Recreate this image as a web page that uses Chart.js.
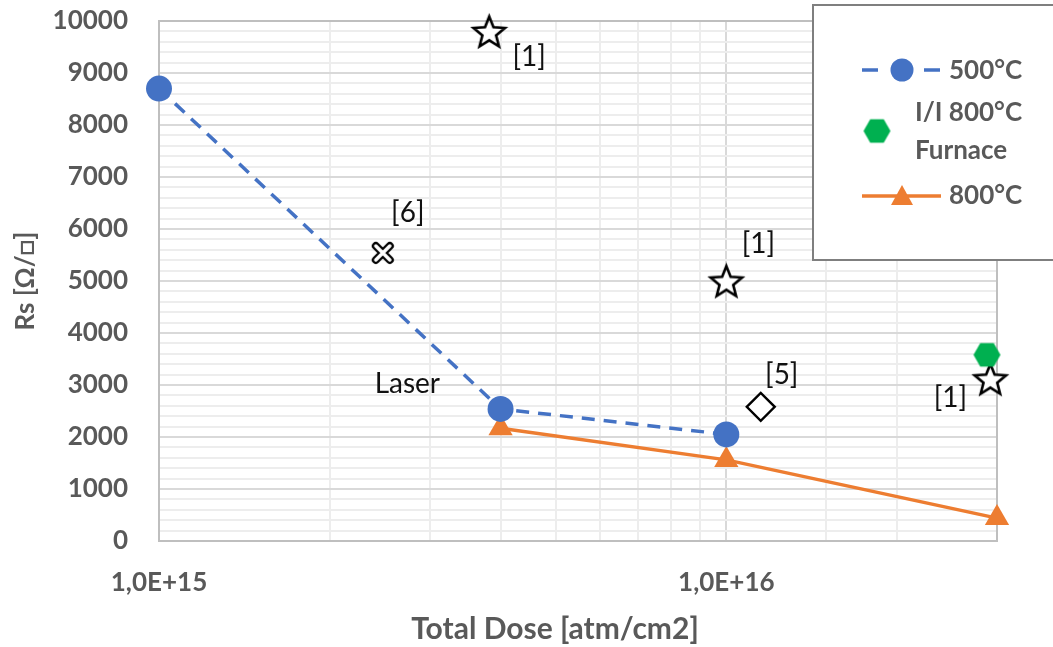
<!DOCTYPE html>
<html>
<head>
<meta charset="utf-8">
<script src="https://cdn.jsdelivr.net/npm/chart.js@4/dist/chart.umd.min.js"></script>
<style>
  html, body { margin: 0; padding: 0; background: #fff; }
</style>
</head>
<body>
<canvas id="chart" width="1053" height="647"></canvas>
<script>
// Data
const dose500 = [1e15, 4e15, 1e16];
const rs500 = [8700, 2540, 2050];

const dose800 = [4e15, 1e16, 3e16];
const rs800 = [2170, 1560, 440];

const doseFurnace = [2.88e16];
const rsFurnace = [3580];

// literature references
const doseRef1 = [3.82e15, 1e16, 2.92e16];
const rsRef1 = [9800, 5000, 3120];
const labelsRef1 = ['[1]', '[1]', '[1]'];

const doseRef6 = [2.48e15];
const rsRef6 = [5540];
const labelsRef6 = ['[6]'];

const doseRef5 = [1.15e16];
const rsRef5 = [2580];
const labelsRef5 = ['[5]'];

const noteText = ['Laser'];
const noteDose = [2.74e15];
const noteRs = [3020];

const xLabelTicks = [1e15, 1e16];
const seriesNames = ['500°C', 'I/I 800°C Furnace', '800°C'];
const xTitle = 'Total Dose [atm/cm2]';

const BLUE = '#4472C4';
const ORANGE = '#ED7D31';
const GREEN = '#00B050';
const GREY_TEXT = '#595959';

const pts = (xs, ys) => xs.map((x, i) => ({ x: x, y: ys[i] }));

// custom marker images
function starImage(outer, inner) {
  const size = Math.ceil(outer * 2 + 6);
  const c = document.createElement('canvas');
  c.width = c.height = size;
  const ctx = c.getContext('2d');
  const cx = size / 2, cy = size / 2 + outer * 0.1;
  ctx.beginPath();
  for (let i = 0; i < 10; i++) {
    const r = i % 2 ? inner : outer;
    const a = -Math.PI / 2 + i * Math.PI / 5;
    ctx.lineTo(cx + r * Math.cos(a), cy + r * Math.sin(a));
  }
  ctx.closePath();
  ctx.fillStyle = '#fff';
  ctx.fill();
  ctx.lineWidth = 2.6;
  ctx.strokeStyle = '#000';
  ctx.stroke();
  return c;
}

function hexImage(r, color) {
  const size = Math.ceil(r * 2 + 2);
  const c = document.createElement('canvas');
  c.width = c.height = size;
  const ctx = c.getContext('2d');
  ctx.beginPath();
  for (let i = 0; i < 6; i++) {
    const a = i * Math.PI / 3;
    ctx.lineTo(size / 2 + r * Math.cos(a), size / 2 + r * Math.sin(a));
  }
  ctx.closePath();
  ctx.fillStyle = color;
  ctx.fill();
  return c;
}

function crossImage(arm) {
  const size = Math.ceil(arm * 2 + 10);
  const c = document.createElement('canvas');
  c.width = c.height = size;
  const ctx = c.getContext('2d');
  const m = size / 2;
  const drawX = () => {
    ctx.beginPath();
    ctx.moveTo(m - arm, m - arm); ctx.lineTo(m + arm, m + arm);
    ctx.moveTo(m - arm, m + arm); ctx.lineTo(m + arm, m - arm);
    ctx.stroke();
  };
  ctx.lineCap = 'round';
  ctx.strokeStyle = '#000'; ctx.lineWidth = 8; drawX();
  ctx.strokeStyle = '#fff'; ctx.lineWidth = 3.5; drawX();
  return c;
}

const starImg = starImage(16.5, 7.2);
const hexImg = hexImage(13.5, GREEN);
const crossImg = crossImage(7);

const isPow10 = v => Math.abs(Math.log10(v) - Math.round(Math.log10(v))) < 1e-9;
const sci = v => {
  const e = Math.round(Math.log10(v));
  return (v / Math.pow(10, e)).toFixed(1).replace('.', ',') + 'E+' + e;
};

const decor = {
  id: 'decor',
  beforeDatasetsDraw(chart) {
    const { ctx, chartArea: a } = chart;
    ctx.save();
    ctx.strokeStyle = '#bfbfbf';
    ctx.lineWidth = 2;
    ctx.strokeRect(a.left, a.top, a.right - a.left, a.bottom - a.top);
    ctx.restore();
  },
  afterDatasetsDraw(chart) {
    const { ctx } = chart;
    ctx.save();
    ctx.font = '28px Lato';
    ctx.fillStyle = '#111';
    ctx.textAlign = 'center';
    ctx.textBaseline = 'middle';

    // reference labels, offset from their markers
    const refs = [
      { ds: 3, labels: labelsRef1, off: [[40, 26], [32, -37], [-40, 19]] },
      { ds: 4, labels: labelsRef6, off: [[25, -40]] },
      { ds: 5, labels: labelsRef5, off: [[21, -32]] }
    ];
    refs.forEach(r => {
      const meta = chart.getDatasetMeta(r.ds);
      r.labels.forEach((t, j) => {
        const el = meta.data[j];
        ctx.fillText(t, el.x + r.off[j][0], el.y + r.off[j][1]);
      });
    });

    const xs = chart.scales.x, ys = chart.scales.y;
    noteText.forEach((t, i) => {
      ctx.fillText(t, xs.getPixelForValue(noteDose[i]), ys.getPixelForValue(noteRs[i]));
    });

    // x axis title (centred like the original, a bit left of the plot centre)
    ctx.font = 'bold 30px Lato';
    ctx.fillStyle = GREY_TEXT;
    ctx.fillText(xTitle, 555, 629);

    // legend box
    ctx.fillStyle = '#fff';
    ctx.fillRect(813, 5, 260, 255);
    ctx.strokeStyle = '#7f7f7f';
    ctx.lineWidth = 2;
    ctx.strokeRect(813, 5, 260, 255);

    ctx.font = 'bold 26px Lato';
    ctx.fillStyle = GREY_TEXT;
    ctx.textAlign = 'left';

    // 500°C
    ctx.strokeStyle = BLUE;
    ctx.lineWidth = 3.5;
    ctx.beginPath();
    ctx.moveTo(862, 70); ctx.lineTo(878, 70);
    ctx.moveTo(924, 70); ctx.lineTo(940, 70);
    ctx.stroke();
    ctx.fillStyle = BLUE;
    ctx.beginPath(); ctx.arc(902, 70, 11.5, 0, Math.PI * 2); ctx.fill();
    ctx.fillStyle = GREY_TEXT;
    ctx.fillText(seriesNames[0], 949, 71);

    // furnace
    ctx.drawImage(hexImg, 877 - hexImg.width / 2, 131 - hexImg.height / 2);
    ctx.fillText('I/I 800°C', 915, 113);
    ctx.fillText('Furnace', 915, 151);

    // 800°C
    ctx.strokeStyle = ORANGE;
    ctx.beginPath(); ctx.moveTo(862, 196); ctx.lineTo(941, 196); ctx.stroke();
    ctx.fillStyle = ORANGE;
    ctx.beginPath();
    ctx.moveTo(902, 185); ctx.lineTo(913, 205); ctx.lineTo(891, 205);
    ctx.closePath(); ctx.fill();
    ctx.fillStyle = GREY_TEXT;
    ctx.fillText(seriesNames[2], 949, 196);
    ctx.restore();
  }
};

new Chart(document.getElementById('chart'), {
  type: 'scatter',
  data: {
    datasets: [
      {
        label: seriesNames[0],
        data: pts(dose500, rs500),
        showLine: true,
        borderColor: BLUE,
        borderWidth: 3.5,
        borderDash: [13, 9],
        backgroundColor: BLUE,
        pointRadius: 13,
        pointBorderWidth: 0,
        clip: false
      },
      {
        label: seriesNames[1],
        data: pts(doseFurnace, rsFurnace),
        pointStyle: hexImg,
        clip: false
      },
      {
        label: seriesNames[2],
        data: pts(dose800, rs800),
        showLine: true,
        borderColor: ORANGE,
        borderWidth: 3.5,
        backgroundColor: ORANGE,
        pointStyle: 'triangle',
        pointRadius: 14,
        pointBorderWidth: 0,
        clip: false
      },
      {
        label: 'ref1',
        data: pts(doseRef1, rsRef1),
        pointStyle: starImg,
        clip: false
      },
      {
        label: 'ref6',
        data: pts(doseRef6, rsRef6),
        pointStyle: crossImg,
        clip: false
      },
      {
        label: 'ref5',
        data: pts(doseRef5, rsRef5),
        pointStyle: 'rectRot',
        pointRadius: 14,
        backgroundColor: '#fff',
        borderColor: '#000',
        pointBorderWidth: 2.4,
        clip: false
      }
    ]
  },
  options: {
    responsive: false,
    animation: false,
    events: [],
    layout: { padding: { left: 0, right: 56, top: 21, bottom: 0 } },
    plugins: {
      legend: { display: false },
      tooltip: { enabled: false }
    },
    scales: {
      x: {
        type: 'logarithmic',
        min: 1e15,
        max: 3e16,
        afterFit: s => { s.height = 106; s.paddingLeft = 0; s.paddingRight = 0; },
        border: { color: '#bfbfbf', width: 2 },
        grid: {
          drawTicks: false,
          color: c => isPow10(c.tick.value) ? '#d9d9d9' : '#ededed',
          lineWidth: 2
        },
        ticks: {
          autoSkip: false,
          maxRotation: 0,
          padding: 26,
          color: GREY_TEXT,
          font: { family: 'Lato', size: 26, weight: 'bold' },
          callback: v => xLabelTicks.some(t => Math.abs(t - v) / t < 1e-9) ? sci(v) : ''
        },
        title: { display: false }
      },
      y: {
        min: 0,
        max: 10000,
        afterFit: s => { s.width = 159; s.paddingTop = 0; s.paddingBottom = 0; },
        border: { color: '#bfbfbf', width: 2 },
        grid: {
          drawTicks: false,
          color: c => c.tick.value % 1000 === 0 ? '#d9d9d9' : '#ededed',
          lineWidth: 2
        },
        ticks: {
          stepSize: 200,
          autoSkip: false,
          padding: 31,
          color: GREY_TEXT,
          font: { family: 'Lato', size: 26, weight: 'bold' },
          callback: v => v % 1000 === 0 ? String(v) : ''
        },
        title: {
          display: true,
          text: 'Rs [Ω/□]',
          color: GREY_TEXT,
          font: { family: 'Lato', size: 26, weight: 'bold' },
          padding: { top: 10, bottom: 0 }
        }
      }
    }
  },
  plugins: [decor]
});
</script>
</body>
</html>
